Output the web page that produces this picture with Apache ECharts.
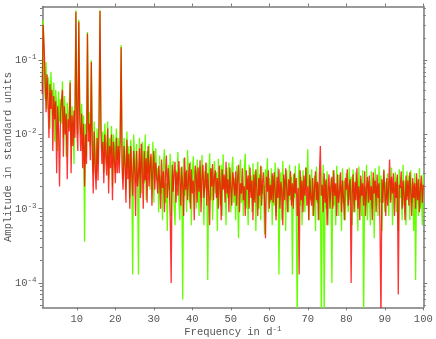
<!DOCTYPE html>
<html>
<head>
<meta charset="utf-8">
<script src="https://cdn.jsdelivr.net/npm/echarts@6/dist/echarts.min.js"></script>
<style>
  html, body { margin: 0; padding: 0; background: #fff; }
  #chart { width: 436px; height: 339px; }
</style>
</head>
<body>
<div id="chart"></div>
<script>
// frequency grid (d^-1): first point and spacing
var freqStart = 1.0;
var freqStep = 0.25;

// amplitudes in units of 1e-3, one row per 5 d^-1
var greenAmp = [
  45, 350, 80, 30, 95, 22, 60, 45, 12, 70, 35, 18, 50, 8, 40, 25, 6, 38, 15, 30,
  14, 52, 9, 33, 18, 5, 27, 12, 22, 54, 7, 24, 15, 4, 30, 470, 20, 10, 350, 28,
  10, 26, 6, 18, 0.36, 14, 5, 240, 11, 20, 7, 100, 9, 3, 15, 6, 2.5, 12, 4, 16,
  470, 16, 6, 11, 3, 14, 8, 4, 15, 2.5, 9, 5.5, 13, 2, 10, 7, 3, 12, 4.5, 9,
  4, 10, 160, 5, 2.5, 9, 6, 1.8, 11, 3.5, 7, 1.4, 8.5, 4, 0.13, 10, 5, 2.2, 7.5, 3,
  0.13, 9, 3.5, 1.6, 8, 4.5, 2.2, 10, 1.3, 6, 3, 7.5, 1.8, 5, 2.5, 8, 1.2, 4.5, 6.5, 2.4,
  3.5, 0.9, 5.2, 1.6, 2.8, 0.7, 4.1, 6.3, 1.2, 2.2, 0.5, 3.9, 1.8, 5.5, 0.8, 2.6, 4.4, 1.1, 0.6, 3.3,
  2.1, 5.8, 1.3, 0.7, 3.6, 2.4, 0.06, 4.8, 1.5, 3.1, 0.9, 6.2, 2.7, 1.2, 4.3, 0.6, 2.9, 5.1, 1.7, 3.4,
  1.0, 4.6, 2.2, 0.8, 3.8, 1.4, 5.3, 2.5, 0.6, 3.2, 1.9, 4.1, 0.11, 2.8, 5.6, 1.3, 3.5, 0.7, 2.4, 4.4,
  1.6, 3.1, 0.5, 4.7, 2.3, 1.1, 3.9, 0.8, 5.4, 1.9, 2.7, 0.6, 3.6, 1.4, 4.2, 2.1, 0.9, 3.3, 5.0, 1.2,
  2.6, 0.7, 3.8, 1.5, 0.4, 2.9, 4.6, 1.2, 2.2, 0.8, 3.4, 5.5, 1.0, 2.5, 0.6, 3.9, 1.7, 2.8, 0.9, 4.1,
  1.3, 3.2, 0.5, 2.4, 4.3, 1.0, 2.9, 0.7, 3.7, 1.6, 2.1, 0.45, 3.4, 1.9, 4.8, 0.9, 2.6, 1.2, 3.5, 0.6,
  2.8, 1.1, 4.2, 0.8, 2.3, 3.6, 0.13, 1.9, 3.1, 0.7, 4.4, 1.5, 2.5, 0.5, 3.3, 1.8, 0.9, 3.9, 1.3, 2.7,
  0.13, 2.9, 1.4, 3.8, 0.8, 0.03, 2.4, 4.1, 1.1, 2.7, 0.6, 3.3, 1.7, 0.9, 3.6, 2.0, 6.3, 0.7, 2.5, 1.3,
  3.4, 0.8, 1.9, 2.8, 0.5, 3.7, 1.2, 2.2, 0.7, 3.1, 0.03, 1.6, 3.9, 0.03, 2.4, 1.0, 3.2, 0.6, 2.0, 1.4,
  2.6, 0.1, 3.3, 1.1, 2.1, 0.6, 3.8, 1.5, 0.8, 2.9, 1.9, 0.5, 3.5, 1.2, 2.4, 0.7, 3.0, 1.6, 0.9, 3.6,
  1.3, 2.7, 0.6, 3.4, 1.8, 0.9, 3.1, 2.2, 0.5, 3.7, 1.4, 2.5, 0.8, 3.3, 0.03, 2.0, 1.1, 3.9, 0.7, 2.4,
  1.7, 0.6, 3.2, 1.0, 2.6, 0.4, 3.5, 1.5, 2.1, 0.8, 3.8, 1.2, 2.8, 0.5, 1.9, 3.4, 0.9, 2.3, 1.4, 3.0,
  0.8, 2.5, 1.3, 3.6, 0.6, 2.2, 1.7, 3.1, 0.9, 2.7, 0.5, 3.4, 1.4, 2.0, 0.7, 3.9, 1.1, 2.4, 0.6, 3.2,
  1.5, 2.8, 0.7, 3.3, 1.2, 2.3, 0.5, 3.0, 0.11, 2.6, 1.6, 0.8, 3.5, 1.0, 2.2, 0.6, 2.9
];
var redAmp = [
  35, 300, 150, 55, 20, 65, 30, 9, 48, 22, 40, 6, 33, 16, 28, 3, 24, 11, 2, 20,
  20, 40, 5, 24, 10, 19, 2.5, 16, 11, 50, 3, 18, 7, 21, 9, 450, 12, 6, 330, 15,
  6, 19, 3.5, 14, 2, 10, 4, 230, 8, 14, 4.5, 95, 6, 1.6, 11, 3.5, 1.8, 9, 2.4, 12,
  460, 11, 4, 8, 2.2, 10, 5, 2.8, 12, 1.6, 7, 3.5, 10, 1.3, 8, 4.5, 2.2, 9, 3, 7,
  3, 8, 150, 3.5, 1.8, 7, 4, 1.2, 8.5, 2.5, 5.5, 1, 7, 3, 1.5, 6, 3.5, 0.8, 6, 2,
  2.8, 6.5, 1.4, 7.5, 3.5, 1.0, 6, 2.4, 4.8, 1.2, 7, 2, 4, 5.5, 1.1, 3.5, 6, 1.8, 4.2, 2.6,
  1.6, 3.8, 2.4, 1.0, 4.6, 1.9, 3.2, 0.9, 2.7, 5.2, 1.4, 3.5, 2.1, 0.8, 0.1, 3.9, 1.7, 2.9, 4.3, 1.2,
  3.1, 1.5, 4.4, 2.3, 1.1, 3.7, 2.0, 0.8, 4.9, 1.8, 3.3, 1.3, 2.6, 4.1, 1.0, 3.4, 1.6, 2.4, 0.7, 3.8,
  2.9, 1.2, 3.6, 1.7, 4.5, 0.9, 2.5, 3.9, 1.4, 2.2, 4.2, 1.1, 3.0, 1.6, 0.6, 3.5, 2.0, 4.0, 1.3, 2.7,
  3.3, 1.4, 2.6, 1.0, 3.8, 2.1, 0.7, 3.4, 1.8, 2.9, 1.2, 4.3, 1.6, 2.5, 0.9, 3.6, 1.9, 1.1, 3.1, 2.2,
  1.5, 3.2, 1.1, 2.6, 3.9, 0.9, 2.2, 1.6, 3.5, 1.3, 2.0, 0.8, 3.3, 1.8, 2.8, 1.0, 3.6, 1.4, 2.4, 0.7,
  2.9, 1.2, 3.4, 1.9, 0.8, 2.6, 1.5, 3.8, 1.1, 2.3, 3.1, 1.4, 0.4, 2.7, 1.7, 3.3, 1.0, 2.1, 1.3, 3.0,
  1.2, 3.1, 1.8, 0.7, 2.7, 1.4, 3.4, 1.0, 2.3, 1.7, 0.6, 2.9, 1.3, 3.5, 1.9, 0.9, 2.5, 1.5, 3.2, 1.1,
  2.2, 1.0, 3.0, 1.6, 2.6, 0.8, 1.9, 0.13, 3.3, 1.3, 2.4, 0.9, 2.8, 1.5, 3.6, 1.1, 2.0, 0.7, 2.9, 1.4,
  1.1, 2.6, 0.8, 1.9, 3.2, 1.3, 2.3, 0.7, 2.8, 7.0, 1.5, 2.1, 0.9, 3.0, 1.2, 2.5, 0.6, 1.8, 2.9, 1.0,
  1.9, 2.7, 1.0, 3.3, 1.5, 2.2, 0.8, 2.9, 1.2, 1.7, 3.1, 0.9, 2.4, 1.4, 0.7, 2.6, 1.8, 3.4, 1.1, 2.0,
  2.5, 0.1, 1.6, 2.9, 0.9, 2.3, 1.3, 3.5, 1.0, 2.0, 0.7, 2.8, 1.5, 2.2, 1.1, 3.2, 0.8, 1.9, 2.7, 1.2,
  2.8, 1.3, 2.0, 0.7, 3.1, 1.6, 2.4, 0.9, 2.9, 1.4, 2.2, 0.6, 0.03, 2.5, 1.2, 3.3, 1.7, 0.8, 2.6, 1.1,
  2.0, 4.6, 1.2, 2.7, 1.6, 3.0, 0.8, 2.3, 1.4, 2.9, 0.07, 2.1, 1.9, 3.2, 1.0, 2.4, 1.5, 0.7, 2.8, 1.3,
  2.4, 1.1, 3.1, 1.7, 0.8, 2.6, 1.4, 2.2, 1.0, 3.0, 1.3, 2.5, 0.9, 1.9, 2.8, 1.2, 2.1
];
var ampUnit = 1e-3;

var xTicks = [10, 20, 30, 40, 50, 60, 70, 80, 90, 100];
var yMajorTicks = [1e-4, 1e-3, 1e-2, 1e-1];
var yMin = 4.7e-5, yMax = 0.53;

var yMinorTicks = [];
[1e-5, 1e-4, 1e-3, 1e-2, 1e-1].forEach(function (d) {
  for (var k = 2; k <= 9; k++) {
    var v = k * d;
    if (v > yMin && v < yMax) yMinorTicks.push(v);
  }
});

function toPoints(amp) {
  return amp.map(function (a, i) {
    return [freqStart + i * freqStep, a * ampUnit];
  });
}

var font = 'Liberation Mono';
var frame = { color: '#7a7a7a', width: 1.5 };
var supStyle = { fontFamily: font, fontSize: 7.5, color: '#555', verticalAlign: 'top', padding: [0, 0, 6, 0] };

function yAxisFor(pos, ticks, len, withLabels) {
  return {
    type: 'log', position: pos, min: yMin, max: yMax, logBase: 10,
    axisLine: { show: len > 3, lineStyle: frame },
    axisTick: { customValues: ticks, length: len, lineStyle: { color: '#7a7a7a', width: 1 } },
    axisLabel: {
      show: withLabels,
      customValues: yMajorTicks,
      margin: 6,
      fontFamily: font, fontSize: 10.5, color: '#555',
      formatter: function (v) {
        return '10{sup|' + Math.round(Math.log10(v)) + '}';
      },
      rich: { sup: supStyle }
    },
    splitLine: { show: false },
    minorTick: { show: false }
  };
}

var chart = echarts.init(document.getElementById('chart'));
chart.setOption({
  animation: false,
  backgroundColor: '#fff',
  grid: { left: 42.5, right: 12.7, top: 6.5, bottom: 31.7, containLabel: false, outerBoundsMode: 'none' },
  xAxis: [
    {
      type: 'value', position: 'bottom', min: 1.07, max: 100,
      axisLine: { lineStyle: frame },
      axisTick: { customValues: xTicks, length: 3, lineStyle: { color: '#7a7a7a' } },
      axisLabel: { customValues: xTicks, margin: 6, fontFamily: font, fontSize: 10.5, color: '#555' },
      splitLine: { show: false },
      name: 'Frequency in d{sup|-1}',
      nameLocation: 'middle',
      nameGap: 18,
      nameMoveOverlap: false,
      nameTextStyle: { fontFamily: font, fontSize: 10.5, color: '#555', rich: { sup: supStyle } }
    },
    {
      type: 'value', position: 'top', min: 1.07, max: 100,
      axisLine: { lineStyle: frame },
      axisTick: { customValues: xTicks, length: 3, lineStyle: { color: '#7a7a7a' } },
      axisLabel: { show: false },
      splitLine: { show: false }
    }
  ],
  yAxis: [
    Object.assign(yAxisFor('left', yMajorTicks, 4, true), {
      name: 'Amplitude in standard units',
      nameLocation: 'middle',
      nameRotate: 90,
      nameGap: 29,
      nameMoveOverlap: false,
      nameTextStyle: { fontFamily: font, fontSize: 10.5, color: '#555' }
    }),
    yAxisFor('left', yMinorTicks, 2.5, false),
    yAxisFor('right', yMajorTicks, 4, false),
    yAxisFor('right', yMinorTicks, 2.5, false)
  ],
  series: [
    {
      type: 'line', data: toPoints(greenAmp), showSymbol: false,
      lineStyle: { color: '#66ff00', width: 1.3 }, clip: true, silent: true
    },
    {
      type: 'line', data: toPoints(redAmp), showSymbol: false,
      lineStyle: { color: 'rgba(255,0,0,0.8)', width: 1.3 }, clip: true, silent: true
    }
  ]
});
</script>
</body>
</html>
